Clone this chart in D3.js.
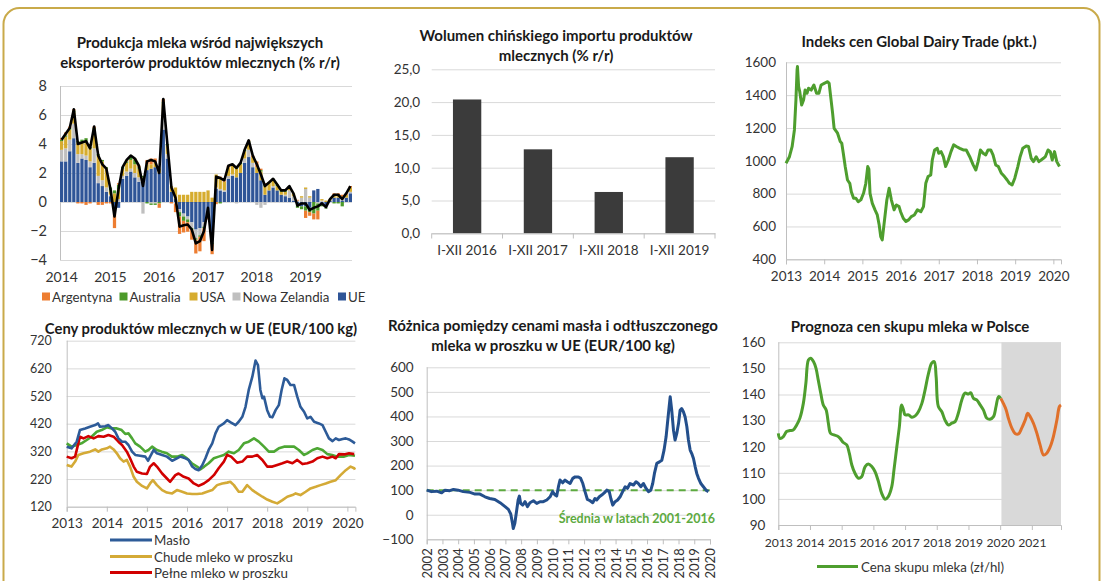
<!DOCTYPE html>
<html><head><meta charset="utf-8">
<script src="https://cdn.jsdelivr.net/npm/d3@7"></script>
<style>body{margin:0;background:#fff;}svg{display:block;}</style>
</head><body>
<svg id="c" width="1103" height="581"></svg>
<script>
// ---------- Panel 1: milk production of largest exporters (% y/y), monthly 2014-2019 ----------
const p1Years = ["2014","2015","2016","2017","2018","2019"];
const p1Keys = ["UE","NZ","USA","AUS","ARG"];
const p1LegendNames = ["Argentyna","Australia","USA","Nowa Zelandia","UE"];
const p1UE = [2.8,2.8,3.5,4.4,2.7,3.0,2.9,2.4,2.7,1.3,1.1,0.7,
  0.4,-0.5,-0.4,1.6,1.8,2.1,1.7,1.4,1.3,2.2,2.3,2.4,
  2.0,5.0,3.0,0.7,0.2,-0.5,-0.8,-1.0,-1.4,-1.9,-1.8,-1.4,
  -1.0,-2.5,0.9,0.8,0.7,1.6,1.8,1.7,2.0,2.7,3.1,2.4,
  2.0,1.5,0.5,0.8,1.0,0.8,0.5,0.4,0.3,0.1,-0.2,-0.3,
  -0.3,-0.4,0.8,0.9,-0.2,-0.3,0.1,0.3,0.3,0.1,0.3,0.6];
const p1NZ = [0.8,0.9,0.8,1.0,0.6,0.3,0.3,0.4,1.0,0.5,0.4,0.3,
  0.1,-0.3,0.2,0.2,0.3,0.2,0.3,0.3,-0.8,0.0,-0.1,-0.1,
  0.0,0.8,0.3,0.0,-0.1,-0.2,-0.2,-0.2,-0.4,-0.6,-0.5,-0.3,
  -0.1,-0.3,0.1,0.1,0.1,0.2,0.1,-0.1,0.0,0.3,0.5,0.3,
  -0.2,-0.4,-0.2,0.0,0.1,0.0,0.0,0.1,0.5,0.3,0.1,0.3,
  0.9,0.3,0.0,-0.1,0.1,-0.1,0.0,0.0,0.0,0.1,0.0,0.1];
const p1USA = [0.6,0.8,0.7,0.8,0.8,0.8,0.9,0.9,1.3,1.4,1.3,1.3,
  0.3,0.6,0.7,0.5,0.6,0.6,0.6,0.6,0.4,0.4,0.3,0.3,
  0.3,1.0,0.6,0.4,0.8,0.5,0.5,0.5,0.7,0.7,0.7,0.7,
  0.8,0.3,0.9,0.8,0.6,0.6,0.6,0.6,0.6,0.5,0.5,0.4,
  0.4,0.6,0.6,0.5,0.4,0.3,0.2,0.2,0.2,0.2,0.0,0.1,
  0.1,0.1,0.0,0.0,0.1,0.1,0.1,0.2,0.2,0.2,0.2,0.3];
const p1AUS = [0.1,0.1,0.1,0.1,0.1,0.2,0.3,0.1,0.1,0.1,0.1,0.1,
  0.2,0.2,0.3,0.1,0.1,0.2,0.3,0.1,0.1,-0.1,-0.1,-0.1,
  -0.1,0.1,0.1,0.0,0.0,-0.3,-0.3,-0.2,-0.1,-0.1,-0.1,-0.1,
  0.0,-0.1,0.0,-0.1,0.0,0.0,0.1,0.1,0.1,0.1,0.1,0.0,
  0.0,0.1,0.1,0.05,0.1,0.1,0.1,0.1,0.1,0.0,-0.2,-0.2,
  -0.3,-0.3,-0.8,-0.5,-0.1,-0.05,0.0,-0.1,-0.1,-0.3,0.0,0.0];
const p1ARG = [0.1,0.2,0.1,0.1,-0.1,-0.1,-0.2,-0.1,0.1,-0.2,-0.2,-0.1,
  -0.1,-1.0,0.1,0.0,0.1,0.1,0.1,0.1,0.0,0.3,0.4,0.3,
  -0.3,0.2,0.0,-0.1,-0.6,-1.2,-0.8,-0.65,-0.7,-0.95,-1.0,-0.9,
  -0.1,-0.7,-0.15,0.05,0.1,0.1,0.0,0.05,0.0,0.0,0.05,0.1,
  0.4,0.1,0.1,0.0,0.0,0.0,0.0,0.0,0.0,0.0,0.05,0.0,
  -0.5,-0.25,-0.4,-0.6,0.0,0.0,0.0,0.1,0.1,0.1,0.1,0.1];
const p1Total = [4.3,4.7,5.1,6.4,4.0,4.1,4.2,3.7,5.2,3.2,2.6,2.3,
  0.9,-1.0,0.9,2.4,2.9,3.2,3.0,2.5,1.1,2.8,2.9,2.8,
  2.0,7.1,4.0,1.0,0.3,-1.7,-1.6,-1.55,-1.9,-2.85,-2.7,-2.0,
  -0.4,-3.3,1.75,1.65,1.5,2.5,2.6,2.35,2.7,3.6,4.25,3.2,
  2.6,1.9,1.1,1.35,1.6,1.2,0.8,0.8,1.1,0.6,-0.25,-0.1,
  -0.1,-0.55,-0.4,-0.3,-0.1,-0.35,0.2,0.5,0.5,0.2,0.6,1.1];
const p1YTicks = [-4,-2,0,2,4,6,8];

// ---------- Panel 2: Chinese dairy import volume (% y/y) ----------
const p2Cats = ["I-XII 2016","I-XII 2017","I-XII 2018","I-XII 2019"];
const p2Vals = [20.4,12.8,6.3,11.6];
const p2YTicks = [0,5,10,15,20,25];

// ---------- Panel 3: Global Dairy Trade index ----------
const gdtTime = [2013.00,2013.09,2013.16,2013.22,2013.26,2013.29,2013.30,2013.33,2013.36,2013.41,2013.46,2013.50,2013.55,2013.59,2013.66,2013.73,2013.80,2013.86,2013.92,
  2014.00,2014.09,2014.13,2014.17,2014.22,2014.26,2014.35,2014.42,2014.46,2014.50,2014.55,2014.61,2014.67,2014.71,2014.77,2014.83,2014.89,2014.96,
  2015.03,2015.09,2015.14,2015.17,2015.20,2015.26,2015.33,2015.39,2015.44,2015.48,2015.52,2015.57,2015.64,2015.70,2015.76,2015.83,2015.89,2015.96,
  2016.00,2016.07,2016.14,2016.21,2016.28,2016.36,2016.44,2016.53,2016.60,2016.66,2016.72,2016.79,2016.83,2016.89,2016.96,
  2017.00,2017.06,2017.12,2017.18,2017.25,2017.32,2017.39,2017.46,2017.55,2017.64,2017.72,2017.81,2017.90,2017.97,
  2018.03,2018.09,2018.16,2018.23,2018.29,2018.36,2018.42,2018.49,2018.56,2018.64,2018.72,2018.79,2018.85,2018.92,2018.99,
  2019.07,2019.13,2019.20,2019.29,2019.35,2019.42,2019.48,2019.55,2019.62,2019.68,2019.74,2019.79,2019.86,2019.92,2019.97,
  2020.03,2020.09,2020.16];
const gdtValue = [985,1025,1086,1188,1370,1553,1574,1452,1421,1340,1370,1431,1411,1442,1431,1462,1411,1411,1462,
  1472,1482,1472,1391,1290,1198,1168,1117,1107,1046,965,883,863,812,772,772,751,762,
  802,863,965,950,802,741,701,670,609,538,518,620,761,833,761,701,731,721,
  690,650,630,640,660,670,701,690,721,863,904,914,1005,1066,1076,
  1046,1056,1025,965,1005,1056,1097,1087,1076,1066,1066,1025,975,944,
  995,1066,1046,1036,1066,1066,1036,975,965,924,904,883,863,853,894,
  965,1025,1076,1090,1087,1015,995,1025,995,1005,1015,1025,1066,1056,1005,
  1056,995,965];
const p3YTicks = [400,600,800,1000,1200,1400,1600];
const p3XTicks = [2013,2014,2015,2016,2017,2018,2019,2020];

// ---------- Panel 4: EU dairy product prices (EUR/100 kg) ----------
const p4Maslo = [[2013.0,337],[2013.12,331],[2013.25,355],[2013.33,397],[2013.46,403],[2013.58,409],[2013.71,415],[2013.78,421],[2013.83,409],[2013.96,411],
  [2014.04,415],[2014.13,403],[2014.21,391],[2014.29,367],[2014.38,355],[2014.46,355],[2014.54,343],[2014.63,319],[2014.71,307],[2014.83,304],[2014.96,301],
  [2015.03,286],[2015.08,301],[2015.17,325],[2015.25,313],[2015.38,307],[2015.5,301],[2015.63,286],[2015.75,295],[2015.83,301],[2015.96,295],
  [2016.04,289],[2016.13,265],[2016.21,256],[2016.29,252],[2016.38,270],[2016.46,295],[2016.54,325],[2016.63,349],[2016.71,385],[2016.79,409],[2016.92,421],
  [2017.0,433],[2017.1,424],[2017.21,415],[2017.29,427],[2017.38,445],[2017.46,481],[2017.54,542],[2017.63,590],[2017.71,648],[2017.77,632],[2017.83,542],[2017.88,512],[2017.92,518],
  [2018.0,469],[2018.07,445],[2018.13,443],[2018.21,469],[2018.29,487],[2018.36,542],[2018.43,584],[2018.5,578],[2018.58,560],[2018.67,560],[2018.75,518],[2018.83,481],[2018.92,463],
  [2019.0,439],[2019.08,445],[2019.17,427],[2019.29,421],[2019.38,415],[2019.46,391],[2019.54,367],[2019.63,357],[2019.71,367],[2019.79,361],[2019.88,365],[2019.96,367],
  [2020.04,363],[2020.13,355],[2020.19,349]];
const p4Chude = [[2013.0,271],[2013.12,265],[2013.21,283],[2013.29,307],[2013.42,313],[2013.58,319],[2013.71,327],[2013.79,319],[2013.88,327],[2014.0,331],
  [2014.08,337],[2014.17,327],[2014.25,313],[2014.33,295],[2014.42,283],[2014.5,289],[2014.58,265],[2014.67,228],[2014.75,210],[2014.88,195],
  [2015.0,186],[2015.08,204],[2015.15,216],[2015.25,198],[2015.38,180],[2015.5,171],[2015.63,168],[2015.75,180],[2015.88,174],
  [2016.0,168],[2016.13,166],[2016.25,166],[2016.38,168],[2016.5,174],[2016.63,180],[2016.75,198],[2016.88,204],
  [2017.0,207],[2017.08,210],[2017.17,198],[2017.29,174],[2017.38,174],[2017.5,198],[2017.63,180],[2017.75,168],[2017.88,156],
  [2018.0,146],[2018.13,138],[2018.25,132],[2018.38,144],[2018.5,156],[2018.63,162],[2018.71,168],[2018.83,162],[2018.96,174],
  [2019.08,186],[2019.21,192],[2019.33,198],[2019.46,204],[2019.58,210],[2019.71,216],[2019.83,234],[2019.96,252],
  [2020.08,265],[2020.17,259],[2020.19,254]];
const p4Pelne = [[2013.0,301],[2013.12,295],[2013.21,301],[2013.27,337],[2013.33,373],[2013.42,367],[2013.54,375],[2013.67,367],[2013.79,375],[2013.92,373],
  [2014.04,379],[2014.17,373],[2014.29,355],[2014.38,343],[2014.5,319],[2014.58,295],[2014.67,265],[2014.75,246],[2014.88,240],
  [2015.0,238],[2015.08,265],[2015.17,277],[2015.25,265],[2015.38,240],[2015.5,222],[2015.58,210],[2015.71,234],[2015.79,240],[2015.92,228],
  [2016.04,222],[2016.17,204],[2016.29,195],[2016.42,204],[2016.54,216],[2016.67,234],[2016.79,259],[2016.92,283],
  [2017.0,307],[2017.1,301],[2017.25,279],[2017.38,283],[2017.5,301],[2017.63,301],[2017.75,307],[2017.88,289],
  [2018.0,265],[2018.13,265],[2018.25,271],[2018.38,277],[2018.5,283],[2018.63,277],[2018.75,289],[2018.88,274],
  [2019.0,277],[2019.13,283],[2019.25,295],[2019.38,301],[2019.5,295],[2019.63,301],[2019.71,295],[2019.79,310],[2019.92,309],
  [2020.04,313],[2020.17,310]];
const p4Zielony = [[2013.0,349],[2013.12,337],[2013.25,343],[2013.37,349],[2013.5,361],[2013.62,373],[2013.75,391],[2013.87,397],
  [2014.0,407],[2014.12,403],[2014.25,403],[2014.37,397],[2014.46,383],[2014.54,385],[2014.63,367],[2014.71,349],[2014.83,337],[2014.96,319],
  [2015.04,325],[2015.13,337],[2015.25,325],[2015.37,319],[2015.5,313],[2015.62,301],[2015.75,301],[2015.88,307],
  [2016.0,295],[2016.12,277],[2016.25,265],[2016.33,255],[2016.43,265],[2016.54,277],[2016.67,295],[2016.79,301],[2016.92,307],
  [2017.04,319],[2017.17,313],[2017.29,325],[2017.42,349],[2017.54,355],[2017.67,367],[2017.79,355],[2017.92,337],
  [2018.04,319],[2018.17,319],[2018.29,331],[2018.42,337],[2018.54,337],[2018.67,337],[2018.79,325],[2018.92,307],
  [2019.0,313],[2019.13,325],[2019.25,331],[2019.38,325],[2019.5,310],[2019.62,307],[2019.75,301],[2019.92,301],
  [2020.04,307],[2020.19,304]];
const p4YTicks = [120,220,320,420,520,620,720];
const p4XTicks = [2013,2014,2015,2016,2017,2018,2019,2020];
const p4Legend = ["Masło","Chude mleko w proszku","Pełne mleko w proszku"];

// ---------- Panel 5: butter - SMP price spread (EUR/100 kg) ----------
const p5Spread = [[2002.0,100],[2002.3,94],[2002.64,96],[2002.95,89],[2003.16,100],[2003.47,98],[2003.7,103],[2004.0,100],[2004.32,94],[2004.75,91],
  [2005.07,84],[2005.38,84],[2005.7,73],[2006.0,66],[2006.33,62],[2006.66,49],[2006.98,33],[2007.19,22],[2007.34,3],[2007.45,-35],[2007.5,-56],[2007.6,-35],
  [2007.72,19],[2007.81,60],[2007.89,76],[2007.97,46],[2008.1,39],[2008.25,53],[2008.4,33],[2008.56,49],[2008.78,57],[2008.99,46],[2009.2,53],[2009.41,53],
  [2009.63,60],[2009.84,73],[2010.0,94],[2010.16,80],[2010.26,76],[2010.37,114],[2010.47,141],[2010.64,130],[2010.79,141],[2010.93,134],[2011.11,127],
  [2011.28,148],[2011.43,154],[2011.64,154],[2011.78,148],[2011.92,127],[2012.06,94],[2012.21,62],[2012.38,57],[2012.55,49],[2012.69,66],[2012.8,60],
  [2012.97,73],[2013.12,80],[2013.28,89],[2013.44,100],[2013.6,94],[2013.7,66],[2013.82,39],[2013.97,53],[2014.13,60],[2014.29,73],[2014.45,94],
  [2014.61,114],[2014.75,107],[2014.92,127],[2015.14,121],[2015.3,134],[2015.45,127],[2015.6,114],[2015.77,127],[2015.94,107],[2016.09,94],[2016.24,100],
  [2016.36,127],[2016.47,168],[2016.62,209],[2016.79,215],[2016.94,222],[2017.08,263],[2017.21,317],[2017.36,412],[2017.47,480],[2017.57,425],
  [2017.68,344],[2017.78,304],[2017.89,331],[2018.0,371],[2018.1,425],[2018.2,432],[2018.31,419],[2018.42,398],[2018.53,358],[2018.63,304],
  [2018.74,263],[2018.84,249],[2018.95,229],[2019.06,195],[2019.16,168],[2019.27,148],[2019.42,127],[2019.58,114],[2019.75,100],[2019.9,94]];
const p5Average = 100;
const p5YTicks = [-100,0,100,200,300,400,500,600];
const p5XTicks = [2002,2003,2004,2005,2006,2007,2008,2009,2010,2011,2012,2013,2014,2015,2016,2017,2018,2019,2020];

// ---------- Panel 6: Polish milk purchase price forecast (zł/hl) ----------
const p6Actual = [[2013.0,125.1],[2013.05,123.2],[2013.16,123.9],[2013.26,125.8],[2013.37,126.2],[2013.47,126.4],[2013.58,128.3],[2013.68,130.9],
  [2013.79,136.6],[2013.87,144.3],[2013.95,153.2],[2014.02,153.9],[2014.11,152.6],[2014.19,150],[2014.26,145.6],[2014.34,140.5],[2014.42,136],
  [2014.51,134.1],[2014.58,129],[2014.65,125.1],[2014.76,124.5],[2014.86,124.1],[2014.95,123.2],[2015.05,121.6],[2015.16,120.7],[2015.24,117.5],
  [2015.32,113],[2015.42,109.8],[2015.53,107.9],[2015.63,108.5],[2015.74,112.4],[2015.84,113.4],[2015.95,112.4],[2016.05,110.5],[2016.16,106.6],
  [2016.26,102.2],[2016.37,99.9],[2016.47,100.9],[2016.58,104.7],[2016.65,111.1],[2016.74,120],[2016.82,127.7],[2016.89,136],[2016.95,134.1],
  [2017.0,132.2],[2017.11,132.2],[2017.21,131.3],[2017.32,131.8],[2017.42,133.4],[2017.53,136.6],[2017.63,141.7],[2017.74,148.1],[2017.84,152],
  [2017.92,152.6],[2017.98,146.8],[2018.05,135.4],[2018.16,133.4],[2018.26,130.2],[2018.37,128.3],[2018.47,129],[2018.58,129.6],[2018.68,132.8],
  [2018.79,137.9],[2018.89,140.5],[2019.0,140.2],[2019.07,140.7],[2019.16,138.5],[2019.26,137.9],[2019.37,136],[2019.47,134.1],[2019.58,130.9],
  [2019.68,130.5],[2019.79,131.5],[2019.87,135.4],[2019.95,139.2],[2020.02,138.5]];
const p6Forecast = [[2020.02,138.5],[2020.1,136.6],[2020.19,134.1],[2020.26,130.9],[2020.37,127.1],[2020.47,125.1],[2020.58,124.9],[2020.68,127.1],
  [2020.79,130.2],[2020.87,132.8],[2020.95,131.5],[2021.05,129],[2021.16,125.1],[2021.26,120.7],[2021.37,116.8],[2021.47,117.5],[2021.58,120],
  [2021.68,123.9],[2021.79,130.2],[2021.87,135.4],[2021.92,136]];
const p6ForecastStart = 2020.04;
const p6YTicks = [90,100,110,120,130,140,150,160];
const p6XTicks = [2013,2014,2015,2016,2017,2018,2019,2020,2021];
const p6Legend = "Cena skupu mleka (zł/hl)";

// ================== drawing ==================
const FONT = "Lato, 'Open Sans', sans-serif";
const GRID = "#d9d9d9", AXIS = "#bfbfbf", TXT = "#333333", TITLE = "#1a1a1a";
const svg = d3.select("#c").attr("font-family", FONT);

// outer frame
svg.append("rect").attr("x",3.5).attr("y",8).attr("width",1096).attr("height",640).attr("rx",16)
  .attr("fill","none").attr("stroke","#C9AA4A").attr("stroke-width",2);

function title(lines, cx, ys, fs=15){
  lines.forEach((t,i)=>svg.append("text").attr("x",cx).attr("y",ys[i]).attr("text-anchor","middle")
    .attr("dominant-baseline","central").attr("font-weight","bold").attr("font-size",fs).attr("fill",TITLE).text(t));
}
function yAxis(scale, ticks, x0, width, pad, fmt, fs){
  const g = svg.append("g").attr("transform",`translate(${x0},0)`)
    .call(d3.axisLeft(scale).tickValues(ticks).tickSize(-width).tickPadding(pad).tickFormat(fmt));
  g.attr("font-family",FONT).attr("font-size",fs);
  g.select(".domain").remove();
  g.selectAll(".tick line").attr("stroke",GRID);
  g.selectAll(".tick text").attr("fill",TXT);
  return g;
}
function xAxis(scale, ticks, y0, tick, pad, fmt, fs){
  const ax = d3.axisBottom(scale).tickSize(tick).tickPadding(pad).tickFormat(fmt);
  if (ticks) ax.tickValues(ticks);
  const g = svg.append("g").attr("transform",`translate(0,${y0})`).call(ax);
  g.attr("font-family",FONT).attr("font-size",fs);
  g.select(".domain").attr("stroke",AXIS);
  g.selectAll(".tick line").attr("stroke",AXIS);
  g.selectAll(".tick text").attr("fill",TXT);
  return g;
}
function vline(x, y0, y1){
  svg.append("line").attr("x1",x).attr("x2",x).attr("y1",y0).attr("y2",y1).attr("stroke",AXIS);
}

// ----- Panel 1 -----
{
  const months = p1Years.flatMap(y => d3.range(1,13).map(m => y + "-" + String(m).padStart(2,"0")));
  const x = d3.scaleBand().domain(months).range([60,352]).paddingInner(0.2);
  const y = d3.scaleLinear().domain([-4,8]).range([260,86]);
  yAxis(y, p1YTicks, 60, 292, 13, d3.format("d"), 14.5);
  vline(60.5, 86, 260);
  xAxis(x, months.filter(m => m.endsWith("-01")), 260, 0, 12.5, m => m.slice(0,4), 14).select(".domain").remove();
  const rows = months.map((m,i)=>({m, UE:p1UE[i], NZ:p1NZ[i], USA:p1USA[i], AUS:p1AUS[i], ARG:p1ARG[i]}));
  const color = {UE:"#2F5597", NZ:"#BFBFBF", USA:"#D6AC2E", AUS:"#4C9A2A", ARG:"#ED7D31"};
  const series = d3.stack().keys(p1Keys).offset(d3.stackOffsetDiverging)(rows);
  svg.append("g").selectAll("g").data(series).join("g").attr("fill", s => color[s.key])
    .selectAll("rect").data(s => s).join("rect")
    .attr("x", d => x(d.data.m)).attr("width", x.bandwidth())
    .attr("y", d => y(Math.max(d[0],d[1]))).attr("height", d => Math.abs(y(d[0]) - y(d[1])));
  svg.append("path").datum(p1Total).attr("fill","none").attr("stroke","#000").attr("stroke-width",2.6)
    .attr("stroke-linejoin","round")
    .attr("d", d3.line().x((d,i)=>x(months[i]) + x.bandwidth()/2).y(d=>y(d)));
  title(["Produkcja mleka wśród największych","eksporterów produktów mlecznych (% r/r)"], 200, [42,62]);
  const legKeys = ["ARG","AUS","USA","NZ","UE"];
  const legX = [42,119.5,189.5,232.5,338];
  legKeys.forEach((k,i)=>{
    svg.append("rect").attr("x",legX[i]).attr("y",292.5).attr("width",8).attr("height",8).attr("fill",color[k]);
    svg.append("text").attr("x",legX[i]+10).attr("y",297).attr("dominant-baseline","central")
      .attr("font-size",13.3).attr("fill",TXT).text(p1LegendNames[i]);
  });
}

// ----- Panel 2 -----
{
  const x = d3.scaleBand().domain(p2Cats).range([431.7,715]).paddingInner(0.6).paddingOuter(0.3);
  const y = d3.scaleLinear().domain([0,25]).range([233.3,69.3]);
  const fmt = v => d3.format(".1f")(v).replace(".",",");
  yAxis(y, p2YTicks, 431.7, 283.3, 11.5, fmt, 13.5);
  svg.append("g").selectAll("rect").data(p2Vals).join("rect")
    .attr("x",(d,i)=>x(p2Cats[i])).attr("width",x.bandwidth())
    .attr("y",d=>y(d)).attr("height",d=>y(0)-y(d)).attr("fill","#3B3B3B");
  const g = xAxis(x, null, 233.3, 0, 12.5, d=>d, 13.5);
  const step = x.step();
  const bounds = [0,1,2,3,4].map(i => 431.7 + i*step);
  svg.append("g").selectAll("line").data(bounds).join("line")
    .attr("x1",d=>d).attr("x2",d=>d).attr("y1",233.3).attr("y2",238.5).attr("stroke",AXIS);
  title(["Wolumen chińskiego importu produktów","mlecznych (% r/r)"], 556, [35,55]);
}

// ----- Panel 3 -----
{
  const x = d3.scaleLinear().domain([2013,2020.2]).range([786,1061]);
  const y = d3.scaleLinear().domain([400,1600]).range([259.3,62.3]);
  yAxis(y, p3YTicks, 786, 275, 10, d3.format("d"), 13.5);
  vline(786.5, 62.3, 259.3);
  xAxis(x, p3XTicks, 259.3, 5, 7, d3.format("d"), 13.5);
  svg.append("path").datum(gdtTime.map((t,i)=>[t,gdtValue[i]])).attr("fill","none").attr("stroke","#4E9E2E")
    .attr("stroke-width",3).attr("stroke-linejoin","round")
    .attr("d", d3.line().x(d=>x(d[0])).y(d=>y(d[1])));
  title(["Indeks cen Global Dairy Trade (pkt.)"], 919, [41]);
}

// ----- Panel 4 -----
{
  const x = d3.scaleLinear().domain([2013,2020.2]).range([66.7,355.4]);
  const y = d3.scaleLinear().domain([120,720]).range([506.7,340.7]);
  yAxis(y, p4YTicks, 66.7, 288.7, 15, d3.format("d"), 12.5);
  vline(67.2, 340.7, 506.7);
  xAxis(x, p4XTicks, 506.7, 5, 6.5, d3.format("d"), 13.5);
  const line = d3.line().x(d=>x(d[0])).y(d=>y(d[1]));
  const sets = [[p4Zielony,"#4DA734"],[p4Chude,"#D4AA36"],[p4Pelne,"#D10000"],[p4Maslo,"#2D5B98"]];
  sets.forEach(([d,c])=> svg.append("path").datum(d).attr("fill","none").attr("stroke",c)
    .attr("stroke-width",2.6).attr("stroke-linejoin","round").attr("d",line));
  title(["Ceny produktów mlecznych w UE (EUR/100 kg)"], 201, [327.5], 14.8);
  const legC = ["#2D5B98","#D4AA36","#D10000"];
  const legY = [540,556.5,572.5];
  p4Legend.forEach((t,i)=>{
    svg.append("line").attr("x1",110).attr("x2",152).attr("y1",legY[i]).attr("y2",legY[i]).attr("stroke",legC[i]).attr("stroke-width",3);
    svg.append("text").attr("x",154).attr("y",legY[i]).attr("dominant-baseline","central").attr("font-size",13.3).attr("fill",TXT).text(t);
  });
}

// ----- Panel 5 -----
{
  const x = d3.scaleLinear().domain([2002,2020]).range([426.7,710]);
  const y = d3.scaleLinear().domain([-100,600]).range([539.3,367.3]);
  yAxis(y, p5YTicks, 426.7, 283.3, 13, d3.format("d"), 13.5);
  vline(427.2, 367.3, 539.3);
  const g = xAxis(x, p5XTicks, 539.3, 5, 4, d3.format("d"), 13);
  g.selectAll(".tick text").attr("transform","rotate(-90)").attr("text-anchor","end")
    .attr("x",-9).attr("y",0).attr("dy","0.35em");
  svg.append("line").attr("x1",x(2002)).attr("x2",x(2020)).attr("y1",y(p5Average)).attr("y2",y(p5Average))
    .attr("stroke","#5DAA3F").attr("stroke-width",2).attr("stroke-dasharray","7,5");
  svg.append("path").datum(p5Spread).attr("fill","none").attr("stroke","#234F8C").attr("stroke-width",3)
    .attr("stroke-linejoin","round").attr("d", d3.line().x(d=>x(d[0])).y(d=>y(d[1])));
  svg.append("text").attr("x",715).attr("y",518.5).attr("text-anchor","end").attr("dominant-baseline","central")
    .attr("font-size",12.5).attr("font-weight","bold").attr("fill","#5DAA3F").text("Średnia w latach 2001-2016");
  title(["Różnica pomiędzy cenami masła i odtłuszczonego","mleka w proszku w UE (EUR/100 kg)"], 553, [325,345]);
}

// ----- Panel 6 -----
{
  const x = d3.scaleLinear().domain([2013,2021.92]).range([778.3,1061]);
  const y = d3.scaleLinear().domain([90,160]).range([525,342.3]);
  svg.append("rect").attr("x",x(p6ForecastStart)).attr("y",y(160)).attr("width",x(2021.92)-x(p6ForecastStart))
    .attr("height",y(90)-y(160)).attr("fill","#D9D9D9");
  yAxis(y, p6YTicks, 778.3, 282.7, 13, d3.format("d"), 13.5);
  vline(778.8, 342.3, 525);
  xAxis(x, p6XTicks, 525, 5, 8, d3.format("d"), 12.2);
  const line = d3.line().curve(d3.curveCatmullRom).x(d=>x(d[0])).y(d=>y(d[1]));
  svg.append("path").datum(p6Actual).attr("fill","none").attr("stroke","#4E9E2E").attr("stroke-width",3).attr("d",line);
  svg.append("path").datum(p6Forecast).attr("fill","none").attr("stroke","#E0702A").attr("stroke-width",3).attr("d",line);
  title(["Prognoza cen skupu mleka w Polsce"], 910, [326]);
  svg.append("line").attr("x1",817).attr("x2",858).attr("y1",566.5).attr("y2",566.5).attr("stroke","#4E9E2E").attr("stroke-width",3);
  svg.append("text").attr("x",861).attr("y",566.5).attr("dominant-baseline","central").attr("font-size",13.3).attr("fill",TXT).text(p6Legend);
}
</script>
</body></html>
